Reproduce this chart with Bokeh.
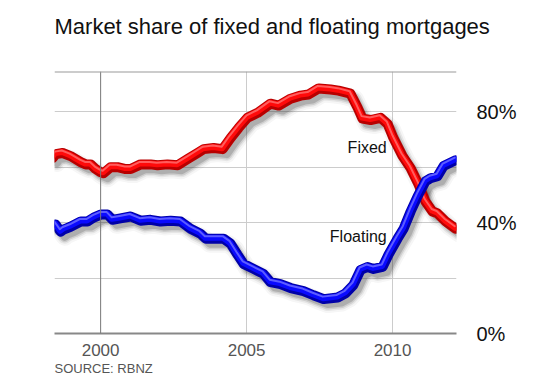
from bokeh.plotting import figure
from bokeh.models import FixedTicker, PrintfTickFormatter, Span, Title, Range1d
from bokeh.core.properties import value
from bokeh.embed import file_html
from bokeh.resources import INLINE

# ---- data ----
fixed_years = [1998.36, 1998.46, 1998.70, 1998.97, 1999.32, 1999.49, 1999.66, 1999.83,
               2000.00, 2000.10, 2000.34, 2000.58, 2000.86, 2001.03, 2001.37, 2001.71,
               2001.95, 2002.29, 2002.64, 2002.98, 2003.32, 2003.53, 2003.87, 2004.18,
               2004.45, 2004.73, 2005.03, 2005.38, 2005.82, 2006.10, 2006.51, 2006.85,
               2007.12, 2007.47, 2007.88, 2008.15, 2008.56, 2008.80, 2008.97, 2009.25,
               2009.59, 2009.83, 2010.03, 2010.34, 2010.62, 2010.89, 2011.13, 2011.37,
               2011.54, 2011.82, 2012.16]
fixed = [63.3, 64.7, 65.1, 64.0, 61.8, 61.0, 61.0, 59.3, 58.2, 57.8, 60.0, 60.0, 59.3,
         59.3, 61.0, 61.0, 60.7, 61.0, 60.7, 62.9, 65.1, 66.5, 66.9, 66.5, 70.5, 74.2,
         77.8, 79.6, 82.9, 82.2, 84.7, 85.8, 86.2, 88.4, 88.0, 87.6, 86.5, 81.5, 77.5,
         77.0, 77.8, 75.6, 70.5, 64.0, 59.6, 53.8, 47.6, 44.0, 43.3, 40.4, 37.8]

float_years = [1998.36, 1998.46, 1998.63, 1998.73, 1998.97, 1999.32, 1999.55, 1999.76,
               2000.00, 2000.24, 2000.41, 2000.68, 2001.03, 2001.37, 2001.71, 2002.05,
               2002.40, 2002.74, 2003.08, 2003.42, 2003.60, 2003.87, 2004.21, 2004.45,
               2004.69, 2004.90, 2005.24, 2005.58, 2005.82, 2006.16, 2006.51, 2006.95,
               2007.29, 2007.64, 2008.12, 2008.39, 2008.66, 2008.90, 2009.14, 2009.35,
               2009.66, 2009.86, 2010.17, 2010.38, 2010.62, 2010.86, 2011.13, 2011.30,
               2011.54, 2011.75, 2012.16]
floating = [39.3, 39.3, 36.7, 37.5, 38.5, 40.4, 40.4, 41.8, 42.9, 42.9, 41.0, 41.5, 42.2,
            40.7, 41.0, 40.4, 40.7, 40.4, 37.8, 36.0, 34.2, 34.2, 34.2, 32.4, 28.4, 25.1,
            23.3, 21.5, 18.5, 17.8, 16.4, 15.3, 13.8, 12.4, 13.0, 14.5, 17.5, 22.9, 24.0,
            23.3, 24.0, 28.4, 34.2, 37.8, 44.0, 49.5, 54.9, 56.0, 56.7, 60.4, 62.5]

x_ticks = [2000, 2005, 2010]
y_ticks = [0, 40, 80]
y_grid = [20, 40, 60, 80]
title_text = "Market share of fixed and floating mortgages"
source_text = "SOURCE: RBNZ"
series_labels = ["Fixed", "Floating"]
label_pos_x = [2009.8, 2009.8]
label_pos_y = [67.0, 35.0]
FONT = "Liberation Sans"

X0, X1 = 1998.42, 2012.19
Y0, Y1 = 0, 94.5

p = figure(width=550, height=375, output_backend="svg", toolbar_location=None,
           x_range=Range1d(X0, X1), y_range=Range1d(Y0, Y1),
           y_axis_location="right", min_border_left=54, min_border_right=94,
           min_border_bottom=10, min_border_top=71)
p.outline_line_color = None
p.background_fill_color = "white"
p.border_fill_color = "white"

# title
p.title.text = title_text
p.title.text_font = FONT
p.title.text_font_size = "22px"
p.title.text_font_style = "normal"
p.title.text_color = "#111111"
p.title.offset = 0

# spacer panel between title and frame
spacer = Title(text=" ", text_font_size="23px", standoff=0)
p.above = [spacer] + list(p.above)

src = Title(text=source_text, align="left", text_font=FONT, text_font_size="13px",
            text_font_style="normal", text_color="#555555", standoff=0)
p.add_layout(src, "below")

# axes
p.xaxis.ticker = FixedTicker(ticks=x_ticks)
p.xaxis.major_label_text_font = FONT
p.xaxis.major_label_text_font_size = "17px"
p.xaxis.major_label_text_color = "#555555"
p.xaxis.axis_line_color = "#888888"
p.xaxis.axis_line_width = 2
p.xaxis.major_tick_line_color = None
p.xaxis.minor_tick_line_color = None
p.xaxis.major_label_standoff = 4

p.yaxis.ticker = FixedTicker(ticks=y_ticks)
p.yaxis.formatter = PrintfTickFormatter(format="%d%%")
p.yaxis.major_label_text_font = FONT
p.yaxis.major_label_text_font_size = "20px"
p.yaxis.major_label_text_color = "#111111"
p.yaxis.axis_line_color = None
p.yaxis.major_tick_line_color = None
p.yaxis.minor_tick_line_color = None
p.yaxis.major_label_standoff = 14

p.xgrid.ticker = FixedTicker(ticks=[2005, 2010])
p.xgrid.grid_line_color = "#cccccc"
p.ygrid.ticker = FixedTicker(ticks=y_grid)
p.ygrid.grid_line_color = "#cccccc"

p.add_layout(Span(location=2000, dimension="height", line_color="#777777", line_width=1))
p.add_layout(Span(location=Y1, dimension="width", line_color="#999999", line_width=2))

# shadows (soft, offset lower-right)
dx, dy = 0.14, -1.8
for w, a in [(18, 0.04), (14, 0.07), (11, 0.12), (8, 0.18)]:
    p.line([x + dx for x in fixed_years], [y + dy for y in fixed], line_width=w,
           line_color="#222222", line_alpha=a, line_join="round", line_cap="round")
    p.line([x + dx for x in float_years], [y + dy for y in floating], line_width=w,
           line_color="#222222", line_alpha=a, line_join="round", line_cap="round")

# main lines with bevel-like highlight
for xs, ys, dark, mid, light in [(fixed_years, fixed, "#b80000", "#ff0a0a", "#ff8080"),
                                 (float_years, floating, "#0000a8", "#0a0aff", "#8080ff")]:
    p.line(xs, ys, line_width=10, line_color=dark, line_join="round", line_cap="round")
    p.line([x - 0.02 for x in xs], [y + 0.35 for y in ys], line_width=6, line_color=mid,
           line_join="round", line_cap="round")
    p.line([x - 0.03 for x in xs], [y + 0.9 for y in ys], line_width=2, line_color=light,
           line_alpha=0.7, line_join="round", line_cap="round")

p.text(x=label_pos_x, y=label_pos_y, text=series_labels, text_font=value(FONT),
       text_font_size="16px", text_align="right", text_baseline="middle",
       text_color="#111111")

open("out.html", "w").write(file_html(p, INLINE))
